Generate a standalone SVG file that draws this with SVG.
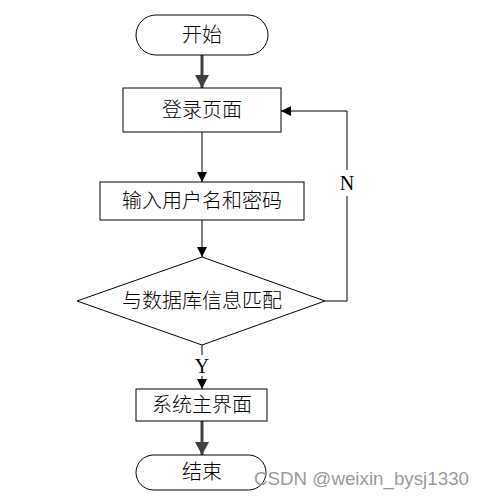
<svg xmlns="http://www.w3.org/2000/svg" width="485" height="497" viewBox="0 0 485 497">
<defs>
<style>
.box{fill:#fff;stroke:#000;stroke-width:1}
.lbl{font-family:"Liberation Serif","Noto Sans CJK SC",serif;font-size:20px;font-weight:300;fill:#000;text-anchor:middle;dominant-baseline:central}
.yn{font-family:"Liberation Serif",serif;font-size:20px;fill:#000;text-anchor:middle;dominant-baseline:central}
.thin{fill:none;stroke:#000;stroke-width:1}
.thick{fill:none;stroke:#404040;stroke-width:3}
.wm{font-family:"Liberation Sans",Arial,sans-serif;font-size:19px;fill:#9a9a9a}
</style>
<marker id="a" markerUnits="userSpaceOnUse" markerWidth="10" markerHeight="10" refX="10" refY="5" orient="auto"><path d="M0,0 L10,5 L0,10 z" fill="#000"/></marker>
<marker id="b" markerUnits="userSpaceOnUse" markerWidth="13" markerHeight="14" refX="13" refY="7" orient="auto"><path d="M0,0 L13,7 L0,14 z" fill="#404040"/></marker>
</defs>
<rect width="485" height="497" fill="#fff"/>
<g id="connectors">
<line class="thick" x1="202" y1="55" x2="202" y2="88" marker-end="url(#b)"/>
<line class="thin" x1="202" y1="132" x2="202" y2="182" marker-end="url(#a)"/>
<line class="thin" x1="202" y1="220" x2="202" y2="257" marker-end="url(#a)"/>
<line class="thin" x1="202" y1="345" x2="202" y2="355"/>
<text class="yn" x="202" y="366">Y</text>
<line class="thin" x1="202" y1="376" x2="202" y2="389" marker-end="url(#a)"/>
<polyline class="thin" points="325,301 347,301 347,196"/>
<text class="yn" x="347" y="183">N</text>
<polyline class="thin" points="347,170 347,111 281,111" marker-end="url(#a)"/>
<line class="thick" x1="202" y1="421" x2="202" y2="455" marker-end="url(#b)"/>
</g>
<g id="start"><rect class="box" x="136" y="15" width="132" height="40" rx="20"/><text class="lbl" x="202" y="35">开始</text></g>
<g id="login"><rect class="box" x="123" y="88" width="158" height="44"/><text class="lbl" x="202" y="110">登录页面</text></g>
<g id="input"><rect class="box" x="100" y="182" width="204" height="38"/><text class="lbl" x="202" y="201">输入用户名和密码</text></g>
<g id="match"><polygon class="box" points="202,257 325,301 202,345 77,301"/><text class="lbl" x="202" y="301">与数据库信息匹配</text></g>
<g id="main"><rect class="box" x="136" y="389" width="131" height="32"/><text class="lbl" x="202" y="405">系统主界面</text></g>
<g id="end"><rect class="box" x="136" y="455" width="130" height="35" rx="17.5"/><text class="lbl" x="202" y="472">结束</text></g>
<text class="wm" x="254" y="485" textLength="215" lengthAdjust="spacingAndGlyphs">CSDN @weixin_bysj1330</text>
</svg>
